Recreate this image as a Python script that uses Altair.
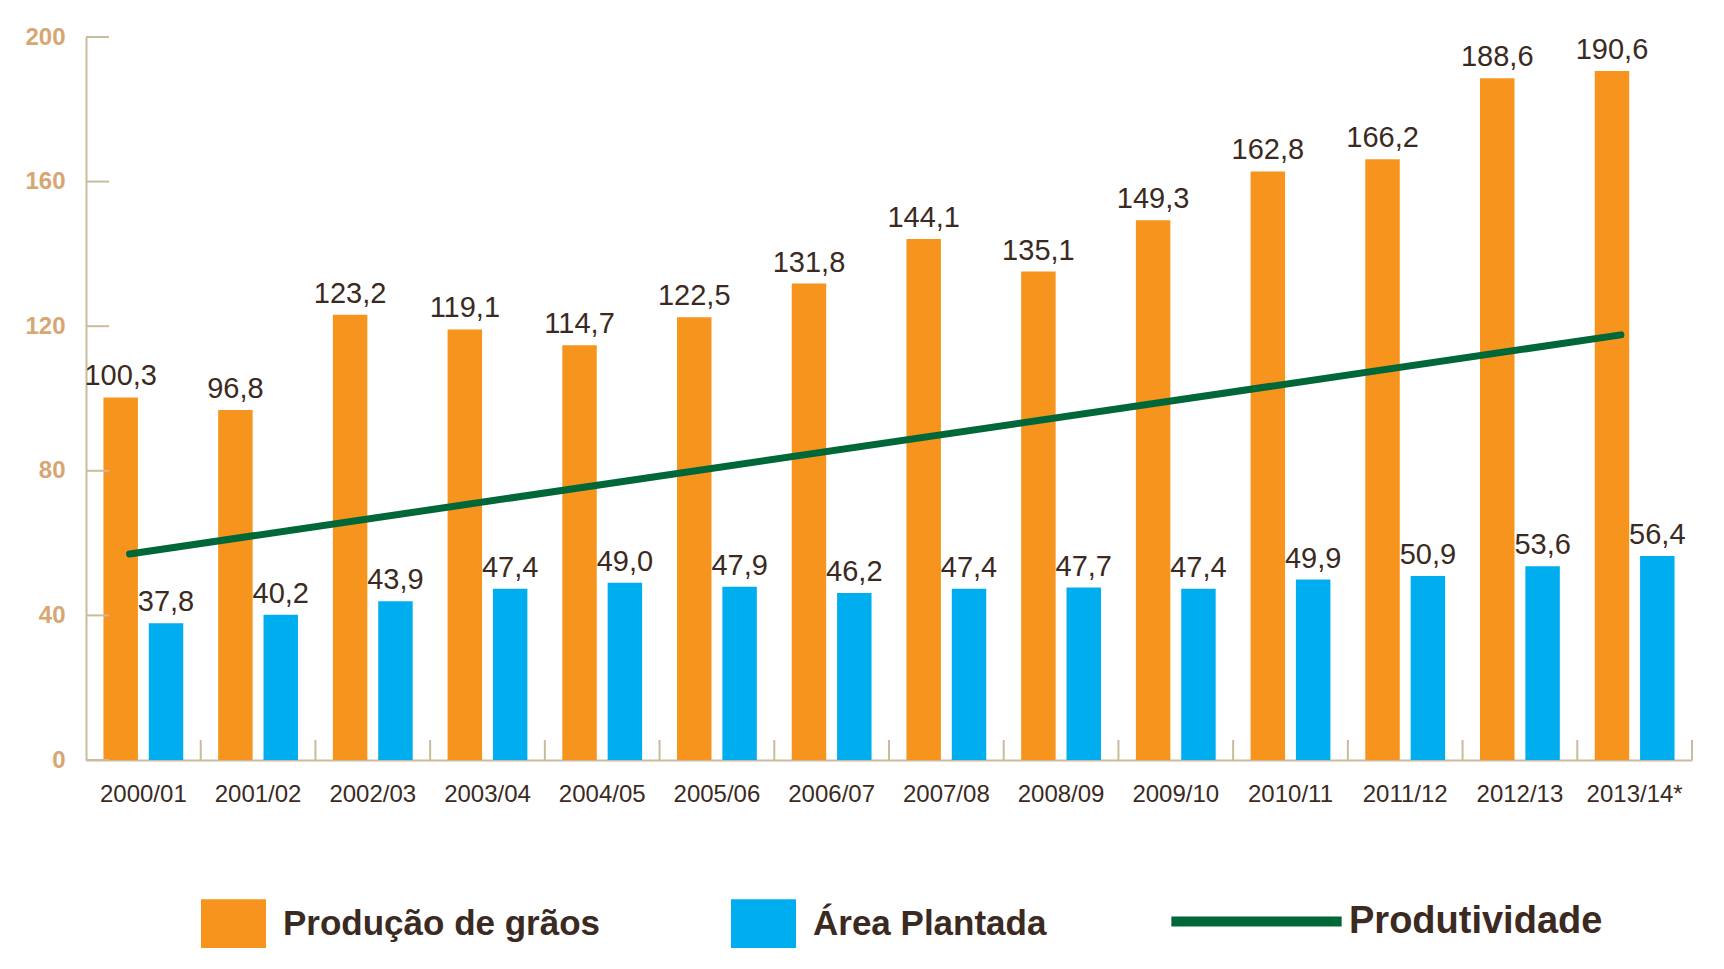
import altair as alt
import pandas as pd

# ---- data ----
categorias = ["2000/01", "2001/02", "2002/03", "2003/04", "2004/05", "2005/06", "2006/07",
              "2007/08", "2008/09", "2009/10", "2010/11", "2011/12", "2012/13", "2013/14*"]
producao = [100.3, 96.8, 123.2, 119.1, 114.7, 122.5, 131.8, 144.1, 135.1, 149.3, 162.8, 166.2, 188.6, 190.6]
area = [37.8, 40.2, 43.9, 47.4, 49.0, 47.9, 46.2, 47.4, 47.7, 47.4, 49.9, 50.9, 53.6, 56.4]
linha_cats = ["2000/01", "2013/14*"]
produtividade = [57.0, 117.6]
y_ticks = [0, 40, 80, 120, 160, 200]
series = ["Produção de grãos", "Área Plantada"]
serie_linha = ["Produtividade"]

ORANGE = "#F7941D"
BLUE = "#00AEEF"
GREEN = "#006838"
AXIS = "#C9BB9E"
YLAB = "#D6A673"
TXT = "#3B2A22"
FONT = "Liberation Sans"

n = len(categorias)
bars_df = pd.DataFrame({
    "cat": categorias * 2,
    "serie": [series[0]] * n + [series[1]] * n,
    "valor": producao + area,
})
line_df = pd.DataFrame({"cat": linha_cats, "serie": serie_linha * 2, "valor": produtividade})
ytick_df = pd.DataFrame({"v": y_ticks})
cat_df = pd.DataFrame({"cat": categorias})

W, H = 1606, 723

xscale = alt.Scale(domain=categorias, paddingInner=0, paddingOuter=0)
yscale = alt.Scale(domain=[0, 200], nice=False)
off_scale = alt.Scale(domain=series, paddingInner=0.24, paddingOuter=0.385)

x_axis = alt.Axis(labelFont=FONT, labelFontSize=24, labelColor=TXT, labelPadding=22,
                  ticks=False, domainColor=AXIS, domainWidth=2, labelAngle=0, title=None)
y_axis = alt.Axis(labelFont=FONT, labelFontSize=24, labelFontWeight="bold", labelColor=YLAB,
                  labelPadding=21, ticks=False, grid=False, domainColor=AXIS, domainWidth=2,
                  values=y_ticks, title=None)

bars = alt.Chart(bars_df).mark_bar().encode(
    x=alt.X("cat:N", scale=xscale, axis=x_axis, title=None),
    xOffset=alt.XOffset("serie:N", scale=off_scale),
    y=alt.Y("valor:Q", scale=yscale, axis=y_axis, title=None),
    fill=alt.Fill("serie:N", scale=alt.Scale(domain=series, range=[ORANGE, BLUE]),
                  legend=alt.Legend(orient="none", legendX=115, legendY=854, direction="horizontal",
                                    title=None, symbolType="M-1,-0.75H1V0.75H-1Z", symbolSize=4225,
                                    symbolStrokeWidth=0, symbolOpacity=1, labelFont=FONT,
                                    labelFontSize=35, labelFontWeight="bold", labelColor=TXT,
                                    labelLimit=1000, labelOffset=17, columnPadding=130, padding=0)),
)

labels = alt.Chart(bars_df).transform_calculate(
    rotulo="replace(format(datum.valor, '.1f'), '.', ',')"
).mark_text(font=FONT, fontSize=29, color=TXT, baseline="alphabetic", dy=-12).encode(
    x=alt.X("cat:N", scale=xscale, title=None),
    xOffset=alt.XOffset("serie:N", scale=off_scale),
    y=alt.Y("valor:Q", scale=yscale, title=None),
    text="rotulo:N",
)

line = alt.Chart(line_df).mark_line(strokeWidth=7, strokeCap="round").encode(
    x=alt.X("cat:N", scale=xscale, bandPosition=0.38, title=None),
    y=alt.Y("valor:Q", scale=yscale, title=None),
    stroke=alt.Stroke("serie:N", scale=alt.Scale(domain=serie_linha, range=[GREEN]),
                      legend=alt.Legend(orient="none", legendX=1080, legendY=794, title=None,
                                        symbolType="stroke", symbolSize=29000, symbolStrokeWidth=10,
                                        labelFont=FONT, labelFontSize=38, labelFontWeight="bold",
                                        labelColor=TXT, labelLimit=1000, labelOffset=2, padding=0)),
)

yticks = alt.Chart(ytick_df).mark_rule(color=AXIS, strokeWidth=2).encode(
    y=alt.Y("v:Q", scale=yscale, title=None),
    x=alt.value(0),
    x2=alt.value(23),
)

xticks = alt.Chart(cat_df).mark_rule(color=AXIS, strokeWidth=2).encode(
    x=alt.X("cat:N", scale=xscale, bandPosition=1, title=None),
    y=alt.value(H),
    y2=alt.value(H - 20),
)

chart = alt.layer(bars, line, labels, yticks, xticks).properties(
    width=W, height=H,
    autosize=alt.AutoSizeParams(type="none"),
    padding={"left": 78, "top": 29, "right": 16, "bottom": 200},
    background="white",
).configure_view(stroke=None)

chart.save("out.html", embed_options={"renderer": "svg", "actions": False})
